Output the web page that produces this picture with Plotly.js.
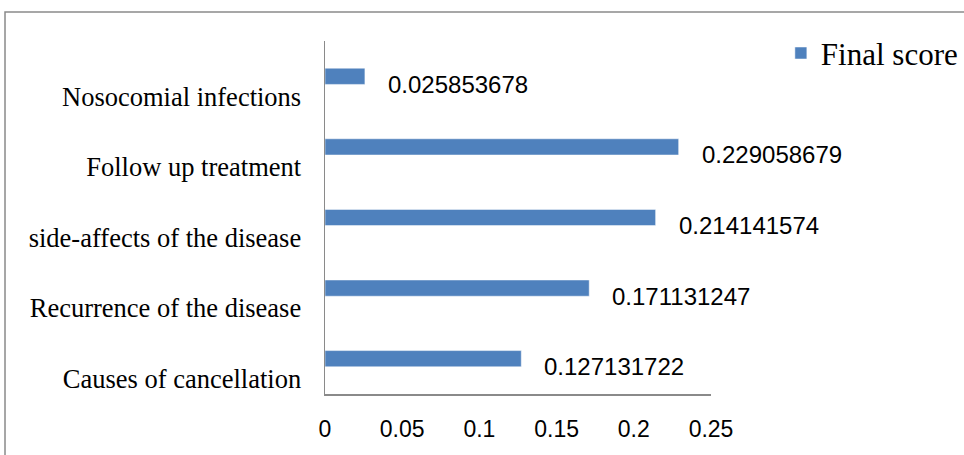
<!DOCTYPE html>
<html>
<head>
<meta charset="utf-8">
<script src="https://cdn.plot.ly/plotly-3.0.1.min.js"></script>
<style>html,body{margin:0;padding:0;background:#fff;}#chart{width:964px;height:455px;}</style>
</head>
<body>
<div id="chart"></div>
<script>
const categories = ["Nosocomial infections", "Follow up treatment", "side-affects of the disease", "Recurrence of the disease", "Causes of cancellation"];
const finalScore = [0.025853678, 0.229058679, 0.214141574, 0.171131247, 0.127131722];
const seriesName = "Final score";
const xTickVals = [0, 0.05, 0.1, 0.15, 0.2, 0.25];
const xTickText = ["0", "0.05", "0.1", "0.15", "0.2", "0.25"];

const trace = {
  type: "bar",
  orientation: "h",
  name: seriesName,
  x: finalScore,
  y: categories,
  marker: {color: "#4f81bd", line: {color: "#ffffff", width: 0.5}},
  hoverinfo: "x+y"
};

const annotations = finalScore.map((v, i) => ({
  x: v, y: categories[i], xref: "x", yref: "y",
  text: v.toFixed(9), showarrow: false,
  xanchor: "left", yanchor: "middle",
  xshift: 21, yshift: -8,
  font: {family: "Liberation Sans, Arial, sans-serif", size: 24, color: "#000"}
}));

const layout = {
  width: 964, height: 455,
  margin: {l: 325, r: 253, t: 41, b: 61, autoexpand: false},
  paper_bgcolor: "#fff", plot_bgcolor: "#fff",
  showlegend: true,
  bargap: 0.77,
  xaxis: {
    range: [0, 0.25],
    tickvals: xTickVals, ticktext: xTickText,
    showgrid: false, zeroline: false,
    showline: true, linecolor: "#8a8a8a", linewidth: 1.5,
    ticks: "", ticklabelstandoff: 14,
    tickfont: {family: "Liberation Sans, Arial, sans-serif", size: 23, color: "#000"}
  },
  yaxis: {
    type: "category",
    autorange: "reversed",
    showgrid: false, zeroline: false,
    showline: true, linecolor: "#8a8a8a", linewidth: 1.5,
    ticks: "", ticklabelstandoff: 17, ticklabelshift: -20,
    tickfont: {family: "Liberation Serif, Times New Roman, serif", size: 26.5, color: "#000"}
  },
  legend: {
    x: 1.181, xanchor: "left", y: 0.965, yanchor: "middle",
    bgcolor: "rgba(0,0,0,0)", borderwidth: 0,
    font: {family: "Liberation Serif, Times New Roman, serif", size: 31, color: "#000"}
  },
  annotations: annotations,
  shapes: [{
    type: "rect", xref: "paper", yref: "paper",
    x0: -0.829, x1: 2, y0: -0.5, y1: 1.082,
    line: {color: "#8a8a8a", width: 1.5}, fillcolor: "rgba(0,0,0,0)", layer: "below"
  }]
};

Plotly.newPlot("chart", [trace], layout, {displayModeBar: false, staticPlot: true});
</script>
</body>
</html>
